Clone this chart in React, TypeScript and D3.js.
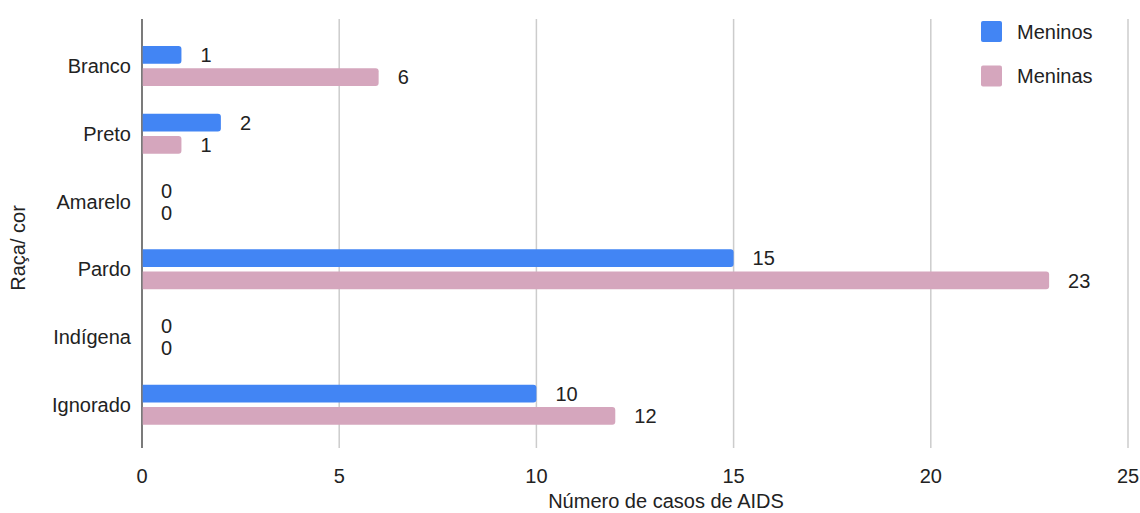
import React from "react";
import * as d3 from "d3";

const categories = ["Branco", "Preto", "Amarelo", "Pardo", "Indígena", "Ignorado"];
const seriesNames = ["Meninos", "Meninas"];
const meninos = [1, 2, 0, 15, 0, 10];
const meninas = [6, 1, 0, 23, 0, 12];
const xTicks = [0, 5, 10, 15, 20, 25];
const colors = ["#4285F4", "#D5A6BD"];

const W = 1140;
const H = 513;
const FONT = "'Liberation Sans', Arial, sans-serif";

function barPath(x0: number, x1: number, y: number, h: number, r: number) {
  const w = x1 - x0;
  if (w <= 0) return "";
  const rr = Math.min(r, w, h / 2);
  return `M${x0},${y}H${x1 - rr}Q${x1},${y} ${x1},${y + rr}V${y + h - rr}Q${x1},${y + h} ${x1 - rr},${y + h}H${x0}Z`;
}

export default function App() {
  const x = d3.scaleLinear().domain([0, 25]).range([142, 1128]);
  const y = d3.scaleBand<string>().domain(categories).range([32.1, 438.6]).padding(0);
  const inner = d3.scaleBand<string>().domain(seriesNames).range([-20, 20]).paddingInner(0.2);
  const values = [meninos, meninas];
  const plotTop = 19;
  const plotBottom = 448;

  return (
    <div style={{ position: "fixed", left: 0, top: 0, width: W, height: H, background: "#fff" }}>
      <svg width={W} height={H} style={{ display: "block", fontFamily: FONT }}>
        <rect width={W} height={H} fill="#fff" />
        {xTicks.map((t) => (
          <line
            key={"g" + t}
            x1={x(t)}
            x2={x(t)}
            y1={plotTop}
            y2={plotBottom}
            stroke={t === 0 ? "#333" : "#ccc"}
            strokeWidth={t === 0 ? 1.3 : 1.5}
          />
        ))}
        {categories.map((c, i) => {
          const cy = (y(c) as number) + y.bandwidth() / 2;
          return (
            <g key={c}>
              {seriesNames.map((s, si) => {
                const v = values[si][i];
                const by = cy + (inner(s) as number);
                const bh = inner.bandwidth();
                return (
                  <g key={s}>
                    <path d={barPath(x(0) + 0.7, x(v), by, bh, 3)} fill={colors[si]} />
                    <text x={x(v) + 19} y={by + bh / 2} dy="0.36em" fontSize={20} fill="#222">
                      {v}
                    </text>
                  </g>
                );
              })}
              <text x={131} y={cy} dy="0.36em" textAnchor="end" fontSize={20} fill="#222">
                {c}
              </text>
            </g>
          );
        })}
        {xTicks.map((t) => (
          <text key={"t" + t} x={x(t)} y={483} textAnchor="middle" fontSize={20} fill="#222">
            {t}
          </text>
        ))}
        <text x={666} y={508} textAnchor="middle" fontSize={20} fill="#222">
          Número de casos de AIDS
        </text>
        <text transform={`translate(25,248) rotate(-90)`} textAnchor="middle" fontSize={20} fill="#222">
          Raça/ cor
        </text>
        {seriesNames.map((s, i) => (
          <g key={"l" + s} transform={`translate(981,${21 + i * 44.5})`}>
            <rect width={21} height={21} rx={2} fill={colors[i]} />
            <text x={36} y={10.5} dy="0.36em" fontSize={20} fill="#222">
              {s}
            </text>
          </g>
        ))}
      </svg>
    </div>
  );
}
